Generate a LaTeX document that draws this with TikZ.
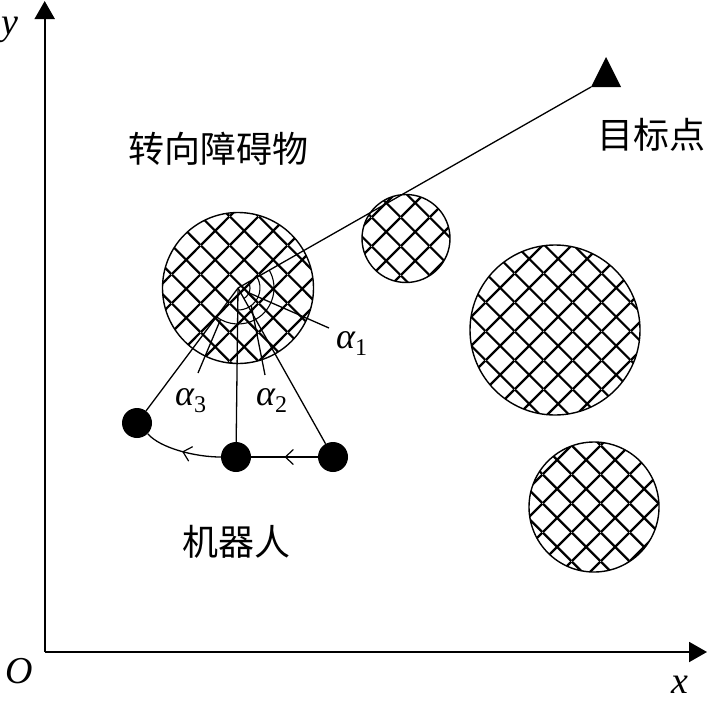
\documentclass[tikz,border=0pt]{standalone}
\usepackage{fontspec}
\setmainfont{Liberation Serif}
\newfontfamily\cjk{Noto Sans CJK SC}
\usetikzlibrary{arrows.meta,patterns.meta,decorations.markings}
\tikzdeclarepattern{
  name=obsgrid,
  type=uncolored,
  bounding box={(0pt,0pt) and (28.6pt,28.6pt)},
  tile size={(28.6pt,28.6pt)},
  code={
    \draw[line width=2.2pt] (0pt,0pt) -- (28.6pt,28.6pt);
    \draw[line width=2.2pt] (0pt,28.6pt) -- (28.6pt,0pt);
  }
}
\newcommand\lsub[1]{\raisebox{-7pt}{\fontsize{24}{24}\selectfont\upshape #1}}
\begin{document}
\begin{tikzpicture}[x=1pt,y=-1pt,
  obstacle/.style={circle,draw,line width=1.4pt,pattern=obsgrid,inner sep=0pt},
  robot/.style={circle,fill=black,minimum size=30pt,inner sep=0pt},
  axis/.style={line width=2pt,-{Triangle[length=18pt,width=20pt]}},
  ray/.style={line width=1.3pt},
  anglearc/.style={line width=1.1pt},
  midarrow/.style={postaction={decorate},decoration={markings,
     mark=at position #1 with {\arrow{Straight Barb[length=8pt,width=15pt,line width=1.2pt]}}}},
  cjklabel/.style={font=\cjk\fontsize{36}{36}\selectfont},
  latin/.style={font=\itshape\fontsize{38}{38}\selectfont,inner sep=0pt},
  alphalabel/.style={font=\itshape\fontsize{36}{36}\selectfont,inner sep=0pt}
]
\useasboundingbox (0,0) rectangle (708,704);
% axes
\coordinate (O) at (44.7,652);
\coordinate (ytip) at (44.7,1);
\coordinate (xtip) at (707,652);
\draw[axis] (O) -- (ytip);
\draw[axis] (O) -- (xtip);
\node[latin,anchor=base] (ylab) at (10,34) {y};
\node[latin,anchor=base] (xlab) at (680,693) {x};
\node[latin,anchor=base] (olab) at (19,683) {O};
% obstacles
\node[obstacle,minimum size=151pt] (o1) at (238,288) {};
\node[obstacle,minimum size=88pt] (o2) at (406,238.5) {};
\node[obstacle,minimum size=170pt] (o3) at (555,330) {};
\node[obstacle,minimum size=130pt] (o4) at (594,507) {};
% target
\coordinate (T) at (591,87);
\coordinate (T2) at (621,87);
\coordinate (T3) at (606,57);
\fill (T) -- (T2) -- (T3) -- cycle;
\draw[ray] (o1.center) -- (T);
% robots
\node[robot] (r1) at (137,423) {};
\node[robot] (r2) at (236,457) {};
\node[robot] (r3) at (333,457) {};
\draw[ray] (o1.center) -- (r1);
\draw[ray] (o1.center) -- (r2);
\draw[ray] (o1.center) -- (r3);
\draw[ray,midarrow=0.5] (r3) -- (r2);
\draw[ray,midarrow=0.5] (r2.west) .. controls (195,457) and (160,448) .. (r1.south east);
% angle arcs
\draw[anglearc] ([shift={(-29.7:12)}]o1.center) arc[start angle=-29.7,end angle=60.7,radius=12];
\draw[anglearc] ([shift={(-29.7:22)}]o1.center) arc[start angle=-29.7,end angle=90.7,radius=22];
\draw[anglearc] ([shift={(-29.7:36)}]o1.center) arc[start angle=-29.7,end angle=126.8,radius=36];
% leaders
\coordinate (l1) at (329,328);
\coordinate (l2) at (265,375);
\coordinate (l3) at (198,373);
\draw[ray] ([shift={(24:12)}]o1.center) -- (l1);
\draw[ray] ([shift={(53:22)}]o1.center) -- (l2);
\draw[ray] ([shift={(119:36)}]o1.center) -- (l3);
\node[alphalabel,anchor=base west] (a1) at (336,348) {α\lsub{1}};
\node[alphalabel,anchor=base west] (a2) at (256,405) {α\lsub{2}};
\node[alphalabel,anchor=base west] (a3) at (175,405) {α\lsub{3}};
% texts
\node[cjklabel] (tob) at (218,149) {转向障碍物};
\node[cjklabel] (tgt) at (651,135) {目标点};
\node[cjklabel] (trb) at (236,542) {机器人};
\end{tikzpicture}
\end{document}
